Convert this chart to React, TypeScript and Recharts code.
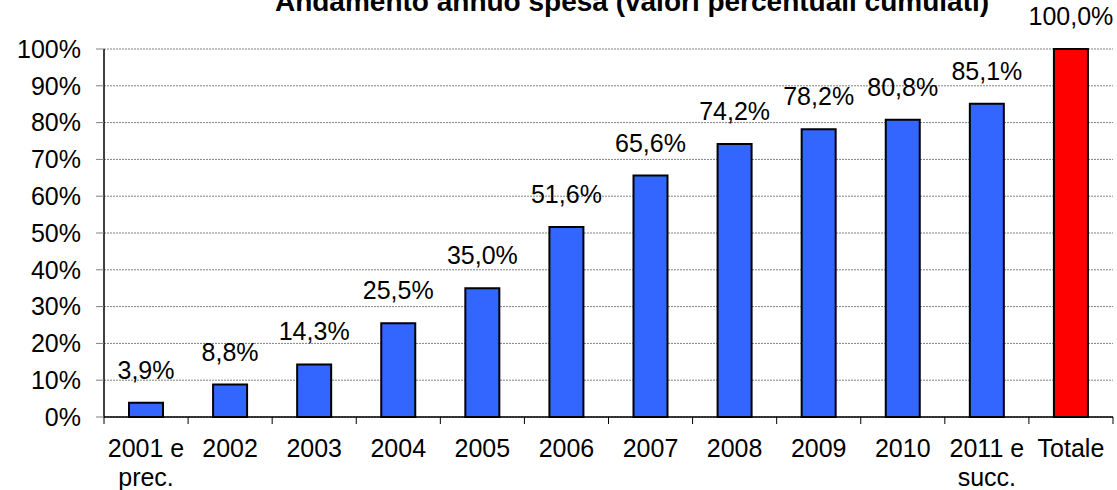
import React from 'react';
import { BarChart, Bar, XAxis, YAxis, CartesianGrid, Cell, LabelList } from 'recharts';

const categories = ['2001 e\nprec.', '2002', '2003', '2004', '2005', '2006', '2007', '2008', '2009', '2010', '2011 e\nsucc.', 'Totale'];
const values = [3.9, 8.8, 14.3, 25.5, 35.0, 51.6, 65.6, 74.2, 78.2, 80.8, 85.1, 100.0];
const yTicks = [0, 10, 20, 30, 40, 50, 60, 70, 80, 90, 100];
const title = 'Andamento annuo spesa (valori percentuali cumulati)';

const BLUE = '#3366FF';
const RED = '#FF0000';
const FONT = '"Liberation Sans", Arial, Helvetica, sans-serif';
const FS = 25;

const data = categories.map((c, i) => ({ name: c, value: values[i] }));

const fmt = (v: number) => v.toFixed(1).replace('.', ',') + '%';

const XTick = (props: any) => {
  const { x, y, payload, index } = props;
  const half = payload && typeof payload.offset === 'number' && payload.offset > 0 ? payload.offset : 42;
  const lines = String(payload.value).split('\n');
  return (
    <g>
      <line x1={x - half} x2={x - half} y1={y} y2={y + 7} stroke="#000" strokeWidth={1} />
      {index === categories.length - 1 && (
        <line x1={x + half} x2={x + half} y1={y} y2={y + 7} stroke="#000" strokeWidth={1} />
      )}
      <text x={x} y={y + 40} textAnchor="middle" fill="#000" fontSize={FS} fontFamily={FONT}>
        {lines.map((l, i) => (
          <tspan key={i} x={x} dy={i === 0 ? 0 : 29}>
            {l}
          </tspan>
        ))}
      </text>
    </g>
  );
};

const BarLabel = (props: any) => {
  const { x, y, width, value } = props;
  return (
    <text x={x + width / 2} y={y - 24} textAnchor="middle" fill="#000" fontSize={FS} fontFamily={FONT}>
      {fmt(value)}
    </text>
  );
};

export default function App() {
  return (
    <div style={{ position: 'absolute', left: 0, top: 0, width: 1117, height: 490, background: '#fff', overflow: 'hidden' }}>
      <div
        style={{
          position: 'absolute',
          left: 0,
          width: 1264,
          top: -12,
          textAlign: 'center',
          fontFamily: FONT,
          fontWeight: 'bold',
          fontSize: 28,
          lineHeight: '28px',
          color: '#000',
          whiteSpace: 'nowrap',
        }}
      >
        {title}
      </div>
      <BarChart width={1117} height={490} data={data} margin={{ top: 49, right: 4, bottom: 13, left: 0 }}>
        <CartesianGrid vertical={false} stroke="#808080" strokeDasharray="2 1" />
        <XAxis
          dataKey="name"
          interval={0}
          tickLine={false}
          tickSize={0}
          tickMargin={0}
          height={60}
          axisLine={{ stroke: '#000', strokeWidth: 1.5 }}
          tick={<XTick />}
        />
        <YAxis
          width={104}
          domain={[0, 100]}
          ticks={yTicks}
          interval={0}
          tickFormatter={(v: number) => `${v}%`}
          tickSize={8}
          tickMargin={15}
          tickLine={{ stroke: '#808080' }}
          axisLine={{ stroke: '#000', strokeWidth: 1.5 }}
          tick={{ fill: '#000', fontSize: FS, fontFamily: FONT }}
        />
        <Bar dataKey="value" barSize={34} stroke="#000" strokeWidth={2} isAnimationActive={false}>
          {data.map((d, i) => (
            <Cell key={i} fill={i === data.length - 1 ? RED : BLUE} />
          ))}
          <LabelList dataKey="value" content={<BarLabel />} />
        </Bar>
      </BarChart>
    </div>
  );
}
